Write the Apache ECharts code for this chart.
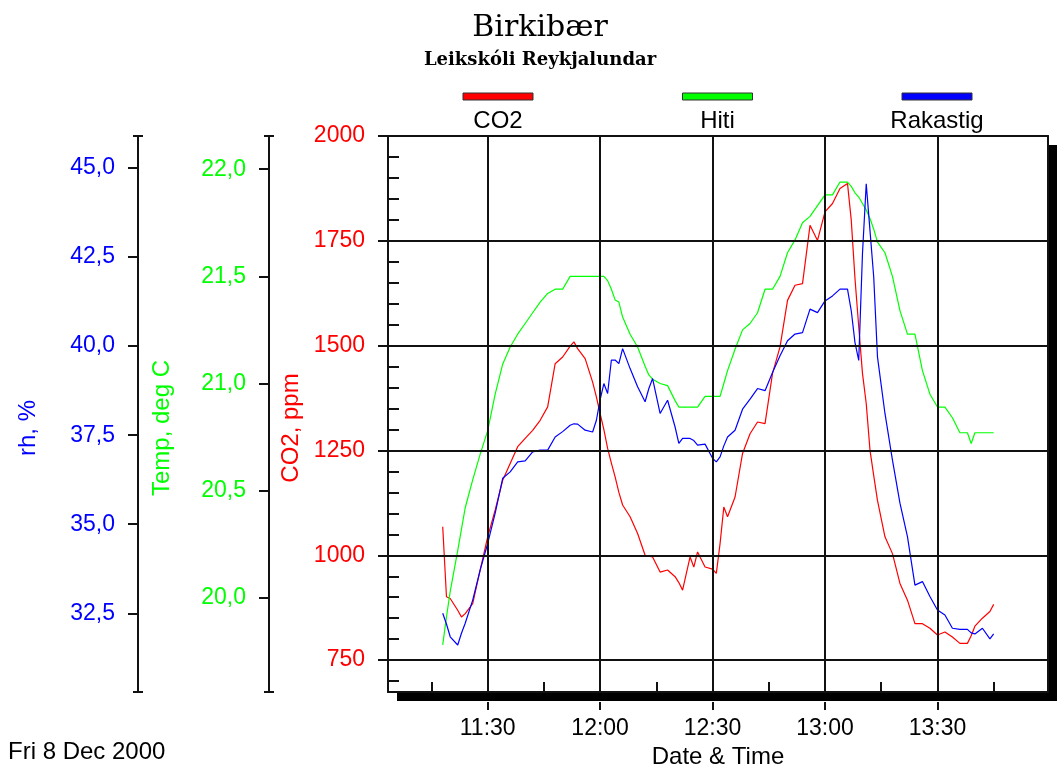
<!DOCTYPE html>
<html>
<head>
<meta charset="utf-8">
<title>Birkibær</title>
<script src="https://cdn.jsdelivr.net/npm/echarts@6/dist/echarts.min.js"></script>
<style>
  html, body { margin: 0; padding: 0; background: #fff; }
  #chart { width: 1057px; height: 776px; }
</style>
</head>
<body>
<div id="chart"></div>
<script>
// readings, Fri 8 Dec 2000
const times = [
  '11:18','11:19','11:20','11:22','11:23','11:24','11:26','11:28',
  '11:30','11:32','11:34','11:36','11:38','11:40','11:42','11:44','11:46','11:48','11:50','11:52','11:53','11:54','11:56','11:58','11:59',
  '12:00','12:01','12:02','12:03','12:04','12:05','12:06','12:08','12:10','12:12','12:13','12:14','12:16','12:18','12:20','12:21','12:22','12:24','12:25','12:26','12:28',
  '12:30','12:31','12:32','12:33','12:34','12:36','12:38','12:40','12:42','12:44','12:46','12:48','12:50','12:52','12:54','12:56','12:58',
  '13:00','13:02','13:04','13:06','13:07','13:08','13:09','13:10','13:11','13:12','13:13','13:14','13:16','13:18','13:20','13:22','13:24','13:26','13:28',
  '13:30','13:32','13:34','13:36','13:38','13:39','13:40','13:42','13:44','13:45'
];
const co2 = [
  1068, 901, 897, 869, 853, 861, 885, 965,
  1044, 1108, 1179, 1219, 1259, 1279, 1298, 1322, 1354, 1457, 1473, 1499, 1509, 1493, 1469, 1413, 1378,
  1338, 1300, 1255, 1220, 1187, 1150, 1120, 1092, 1052, 1000, 998, 996, 960, 965, 949, 935, 917, 996, 972, 1008, 972,
  967, 957, 1028, 1115, 1092, 1139, 1243, 1290, 1318, 1314, 1434, 1497, 1608, 1644, 1648, 1787, 1751,
  1819, 1839, 1875, 1887, 1800, 1660, 1545, 1434, 1362, 1251, 1190, 1131, 1044, 1004, 933, 893, 837, 837, 826,
  810, 817, 805, 790, 790, 808, 831, 850, 866, 883
];
const temp = [
  19.78, 19.91, 20.03, 20.22, 20.32, 20.42, 20.55, 20.67,
  20.78, 20.95, 21.09, 21.17, 21.23, 21.28, 21.33, 21.38, 21.42, 21.44, 21.44, 21.50, 21.50, 21.50, 21.50, 21.50, 21.50,
  21.50, 21.50, 21.48, 21.44, 21.39, 21.38, 21.31, 21.23, 21.17, 21.08, 21.04, 21.02, 21.00, 20.99, 20.92, 20.89, 20.89, 20.89, 20.89, 20.89, 20.94,
  20.94, 20.94, 20.94, 21.00, 21.06, 21.16, 21.25, 21.28, 21.33, 21.44, 21.44, 21.50, 21.61, 21.67, 21.75, 21.78, 21.83,
  21.88, 21.88, 21.94, 21.94, 21.92, 21.89, 21.87, 21.84, 21.81, 21.77, 21.72, 21.66, 21.61, 21.50, 21.34, 21.23, 21.23, 21.06, 20.95,
  20.89, 20.89, 20.84, 20.77, 20.77, 20.72, 20.77, 20.77, 20.77, 20.77
];
const rh = [
  32.50, 32.20, 31.84, 31.61, 31.94, 32.22, 32.87, 33.72,
  34.46, 35.31, 36.29, 36.47, 36.75, 36.78, 37.03, 37.08, 37.08, 37.45, 37.60, 37.78, 37.82, 37.81, 37.64, 37.59, 37.92,
  38.50, 38.95, 38.67, 39.61, 39.61, 39.51, 39.93, 39.37, 38.86, 38.44, 38.81, 39.09, 38.11, 38.48, 37.73, 37.27, 37.41, 37.41, 37.35, 37.22, 37.25,
  36.85, 36.75, 36.89, 37.20, 37.45, 37.64, 38.23, 38.51, 38.81, 38.75, 39.26, 39.73, 40.15, 40.34, 40.38, 41.04, 40.94,
  41.27, 41.41, 41.60, 41.60, 41.00, 40.10, 39.60, 42.60, 44.56, 43.25, 41.94, 39.70, 38.11, 36.80, 35.59, 34.65, 33.29, 33.39, 32.97,
  32.59, 32.45, 32.08, 32.05, 32.05, 31.95, 31.92, 32.08, 31.78, 31.92
];

const timeTicks = ['11:30', '12:00', '12:30', '13:00', '13:30'];
const minorTimeTicks = ['11:15', '11:45', '12:15', '12:45', '13:15', '13:45'];
const co2Ticks = [750, 1000, 1250, 1500, 1750, 2000];
const co2MinorTicks = [700, 800, 850, 900, 950, 1050, 1100, 1150, 1200, 1300, 1350, 1400, 1450,
  1550, 1600, 1650, 1700, 1800, 1850, 1900, 1950];
const tempTicks = [20.0, 20.5, 21.0, 21.5, 22.0];
const rhTicks = [32.5, 35.0, 37.5, 40.0, 42.5, 45.0];

const names = ['CO2', 'Hiti', 'Rakastig'];
const colors = ['#ff0000', '#00ff00', '#0000ff'];

const xMin = 663.4, xMax = 839.5;
const co2Min = 674, co2Max = 2000;
const tempMin = 19.56, tempMax = 22.155;
const rhMin = 30.29, rhMax = 45.9;

const SANS = '"Liberation Sans", Arial, sans-serif';

function toMin(s) {
  const p = s.split(':').map(Number);
  return p[0] * 60 + p[1];
}
function fmtTime(v) {
  const h = Math.floor(v / 60), m = Math.round(v - h * 60);
  return h + ':' + String(m).padStart(2, '0');
}
const comma = v => v.toFixed(1).replace('.', ',');
const plain = v => String(v);
const pairs = arr => times.map((t, i) => [toMin(t), arr[i]]);

const axisLineStyle = { color: '#111', width: 2 };

function mainY(opt) {
  return {
    type: 'value', position: 'left', offset: opt.offset,
    min: opt.min, max: opt.max,
    axisLine: { show: true, onZero: false, lineStyle: axisLineStyle },
    axisTick: { show: true, inside: false, length: 10, customValues: opt.ticks, lineStyle: axisLineStyle },
    axisLabel: {
      show: true, customValues: opt.ticks, margin: 23, formatter: opt.fmt,
      color: opt.color, fontSize: 23, fontFamily: SANS
    },
    splitLine: { show: false },
    name: opt.name, nameLocation: 'middle', nameRotate: 90, nameGap: opt.gap,
    nameTextStyle: { color: opt.color, fontSize: 24, fontFamily: SANS, padding: [0, 28, 0, 0] }
  };
}
function tickY(offset, min, max, values, inside, len) {
  return {
    type: 'value', position: 'left', offset: offset, min: min, max: max,
    axisLine: { show: false },
    axisTick: { show: true, inside: inside, length: len, customValues: values, lineStyle: axisLineStyle },
    axisLabel: { show: false },
    splitLine: { show: false }
  };
}

const chart = echarts.init(document.getElementById('chart'));

const option = {
  animation: false,
  backgroundColor: '#fff',
  grid: {
    left: 388, right: 9, top: 136, bottom: 84,
    show: true, backgroundColor: '#fff',
    borderWidth: 0,
    shadowColor: '#000', shadowBlur: 0, shadowOffsetX: 9, shadowOffsetY: 9
  },
  xAxis: [
    {
      type: 'value', position: 'bottom', min: xMin, max: xMax,
      axisLine: { show: true, onZero: false, lineStyle: axisLineStyle },
      axisTick: { show: true, inside: true, length: 10, customValues: minorTimeTicks.map(toMin), lineStyle: axisLineStyle },
      axisLabel: { show: false },
      splitLine: { show: false }
    },
    {
      type: 'value', position: 'bottom', offset: 10, min: xMin, max: xMax,
      axisLine: { show: false },
      axisTick: { show: true, inside: false, length: 8, customValues: timeTicks.map(toMin), lineStyle: axisLineStyle },
      axisLabel: {
        show: true, customValues: timeTicks.map(toMin), formatter: fmtTime, margin: 15,
        color: '#000', fontSize: 23, fontFamily: SANS
      },
      splitLine: { show: false },
      name: 'Date & Time', nameLocation: 'middle', nameGap: 40,
      nameTextStyle: { color: '#000', fontSize: 24, fontFamily: SANS }
    },
    {
      // top border of the plot
      type: 'value', position: 'top', min: xMin, max: xMax,
      axisLine: { show: true, onZero: false, lineStyle: axisLineStyle },
      axisTick: { show: false }, axisLabel: { show: false }, splitLine: { show: false }
    }
  ],
  yAxis: [
    mainY({ offset: 0, min: co2Min, max: co2Max, ticks: co2Ticks, color: colors[0], name: 'CO2, ppm', gap: 85, fmt: plain }),
    mainY({ offset: 119, min: tempMin, max: tempMax, ticks: tempTicks, color: colors[1], name: 'Temp, deg C', gap: 95, fmt: comma }),
    mainY({ offset: 250, min: rhMin, max: rhMax, ticks: rhTicks, color: colors[2], name: 'rh, %', gap: 98, fmt: comma }),
    tickY(0, co2Min, co2Max, co2MinorTicks, true, 11),
    tickY(119, tempMin, tempMax, [tempMin, tempMax], false, 5),
    tickY(119, tempMin, tempMax, [tempMin, tempMax], true, 5),
    tickY(250, rhMin, rhMax, [rhMin, rhMax], false, 5),
    tickY(250, rhMin, rhMax, [rhMin, rhMax], true, 5),
    {
      // right border of the plot
      type: 'value', position: 'right', min: co2Min, max: co2Max,
      axisLine: { show: true, onZero: false, lineStyle: axisLineStyle },
      axisTick: { show: false }, axisLabel: { show: false }, splitLine: { show: false }
    }
  ],
  series: [
    {
      type: 'line', xAxisIndex: 0, yAxisIndex: 0, data: [], silent: true, z: 1,
      markLine: {
        silent: true, symbol: 'none', animation: false,
        label: { show: false },
        lineStyle: { color: '#111', width: 2, type: 'solid' },
        emphasis: { disabled: true },
        data: timeTicks.map(t => ({ xAxis: toMin(t) }))
          .concat(co2Ticks.filter(v => v < co2Max).map(v => ({ yAxis: v })))
      }
    },
    {
      name: names[0], type: 'line', xAxisIndex: 0, yAxisIndex: 0, z: 3,
      data: pairs(co2), showSymbol: false, symbol: 'none',
      lineStyle: { color: colors[0], width: 1.2 }
    },
    {
      name: names[1], type: 'line', xAxisIndex: 0, yAxisIndex: 1, z: 3,
      data: pairs(temp), showSymbol: false, symbol: 'none',
      lineStyle: { color: colors[1], width: 1.2 }
    },
    {
      name: names[2], type: 'line', xAxisIndex: 0, yAxisIndex: 2, z: 3,
      data: pairs(rh), showSymbol: false, symbol: 'none',
      lineStyle: { color: colors[2], width: 1.2 }
    }
  ],
  graphic: [
    {
      type: 'text', x: 540, y: 13,
      style: { text: 'Birkibær', fill: '#000', font: '30px "DejaVu Serif", serif', align: 'center', verticalAlign: 'top' }
    },
    {
      type: 'text', x: 540, y: 51,
      style: { text: 'Leikskóli Reykjalundar', fill: '#000', font: 'bold 18px "DejaVu Serif", serif', align: 'center', verticalAlign: 'top' }
    },
    {
      type: 'text', left: 8, top: 740,
      style: { text: 'Fri 8 Dec 2000', fill: '#000', font: '24px ' + SANS }
    }
  ].concat(names.map((n, i) => ({
    type: 'group', x: 463 + i * 219.5, y: 92,
    children: [
      {
        type: 'rect', shape: { x: 0, y: 1, width: 70, height: 7 },
        style: { fill: colors[i], stroke: '#333', lineWidth: 1 }
      },
      {
        type: 'text', x: 35, y: 29,
        style: { text: n, fill: '#000', font: '24px ' + SANS, align: 'center', verticalAlign: 'middle' }
      }
    ]
  })))
};

chart.setOption(option);
</script>
</body>
</html>
